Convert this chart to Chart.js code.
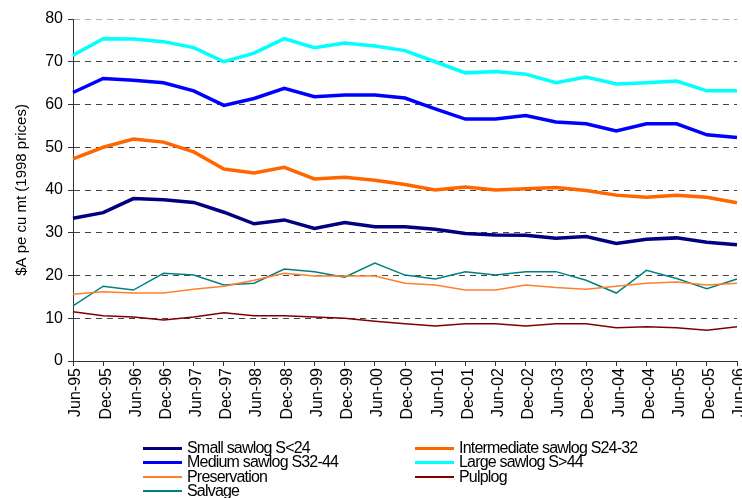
<!DOCTYPE html>
<html>
<head>
<meta charset="utf-8">
<script src="https://cdn.jsdelivr.net/npm/chart.js@4"></script>
<style>
  body { margin: 0; background: #fff; overflow: hidden; }
  #wrap { position: absolute; left: 0; top: 0; width: 742px; height: 498px; overflow: hidden; }
  #box { position: absolute; left: 0; top: 0; width: 762px; height: 440px; }
  #legend { position: absolute; left: 0; top: 440px; width: 742px; height: 58px;
    font-family: "Liberation Sans", Arial, sans-serif; font-size: 16px; color: #000; }
  .item { position: absolute; height: 14px; line-height: 14px; white-space: nowrap; letter-spacing: -0.8px; }
  .item span.line { position: absolute; left: 0; width: 39px; }
  .item span.txt { position: absolute; left: 44px; top: 0; }
</style>
</head>
<body>
<div id="wrap">
  <div id="box"><canvas id="precioChart"></canvas></div>
  <div id="legend"></div>
</div>
<script>
const labels = ['Jun-95','Dec-95','Jun-96','Dec-96','Jun-97','Dec-97','Jun-98','Dec-98','Jun-99','Dec-99',
  'Jun-00','Dec-00','Jun-01','Dec-01','Jun-02','Dec-02','Jun-03','Dec-03','Jun-04','Dec-04','Jun-05','Dec-05','Jun-06'];

const small = [33.4,34.7,38.0,37.7,37.1,34.8,32.1,33.0,31.0,32.4,31.4,31.4,30.8,29.8,29.5,29.4,28.7,29.1,27.5,28.5,28.8,27.8,27.2];
const intermediate = [47.3,50.0,51.9,51.2,48.9,44.9,44.0,45.3,42.6,43.0,42.3,41.3,40.0,40.7,40.0,40.3,40.6,39.9,38.8,38.3,38.8,38.3,37.0];
const medium = [62.8,66.1,65.7,65.1,63.2,59.8,61.4,63.8,61.8,62.2,62.2,61.5,59.0,56.6,56.6,57.4,55.9,55.5,53.8,55.5,55.5,52.9,52.3];
const large = [71.5,75.4,75.3,74.7,73.3,70.0,72.0,75.4,73.3,74.4,73.7,72.6,70.0,67.4,67.7,67.1,65.1,66.4,64.8,65.1,65.5,63.2,63.2];
const preservation = [15.6,16.2,15.9,15.9,16.8,17.5,18.9,20.5,19.9,19.9,19.9,18.2,17.8,16.6,16.6,17.8,17.2,16.8,17.5,18.2,18.5,17.8,18.2];
const pulplog = [11.5,10.6,10.3,9.6,10.3,11.3,10.6,10.6,10.3,10.0,9.3,8.7,8.2,8.7,8.7,8.2,8.7,8.7,7.8,8.0,7.8,7.2,8.0];
const salvage = [12.9,17.5,16.6,20.5,20.1,17.8,18.2,21.5,20.9,19.6,22.9,20.1,19.2,20.9,20.1,20.9,20.9,18.9,15.9,21.2,19.3,16.9,19.2];

const seriesNames = ['Small sawlog S<24', 'Intermediate sawlog S24-32', 'Medium sawlog S32-44',
  'Large sawlog S>44', 'Preservation', 'Pulplog', 'Salvage'];

const font = { family: '"Liberation Sans", Arial, sans-serif', size: 16 };

function serie(label, data, color, width) {
  return { label: label, data: data, borderColor: color, backgroundColor: color,
    borderWidth: width, pointRadius: 0, tension: 0, fill: false };
}

const datasets = [
  serie(seriesNames[0], small, '#000080', 3.5),
  serie(seriesNames[1], intermediate, '#ff6600', 3.5),
  serie(seriesNames[2], medium, '#0000ff', 3.5),
  serie(seriesNames[3], large, '#00ffff', 3.5),
  serie(seriesNames[4], preservation, '#ff7f2a', 1.5),
  serie(seriesNames[5], pulplog, '#800000', 1.5),
  serie(seriesNames[6], salvage, '#008080', 1.5)
];

new Chart(document.getElementById('precioChart'), {
  type: 'line',
  data: { labels: labels, datasets: datasets },
  options: {
    responsive: true,
    maintainAspectRatio: false,
    animation: false,
    layout: { padding: { top: 19, right: 25, bottom: 0, left: 0 } },
    scales: {
      x: {
        offset: false,
        grid: { drawOnChartArea: false, drawTicks: true, tickLength: 5, tickColor: '#333' },
        border: { color: '#333', width: 1 },
        ticks: { font: font, color: '#000', minRotation: 90, maxRotation: 90, padding: 2,
          labelOffset: 3, autoSkip: false },
        afterFit: function (scale) { scale.height = 79; }
      },
      y: {
        min: 0,
        max: 80,
        grid: {
          tickLength: 5,
          tickColor: '#333',
          color: function (ctx) { return ctx.tick && ctx.tick.value === 80 ? '#b0b0b0' : '#444'; }
        },
        border: { color: '#333', width: 1, dash: [6, 5] },
        ticks: { stepSize: 10, font: font, color: '#000', padding: 5 },
        title: {
          display: true,
          text: '$A pe cu mt (1998 prices)',
          font: { family: font.family, size: 15 },
          color: '#000',
          padding: { top: 13, bottom: 0 }
        },
        afterFit: function (scale) { scale.width = 73; }
      }
    },
    plugins: {
      legend: { display: false },
      tooltip: { enabled: false }
    }
  }
});

// leyenda en dos columnas, como en el original
const legend = document.getElementById('legend');
const colX = [143, 415];
const rowY = [1, 15.3, 29.6, 43.9];
datasets.forEach(function (ds, i) {
  const item = document.createElement('div');
  item.className = 'item';
  item.style.left = colX[i % 2] + 'px';
  item.style.top = rowY[Math.floor(i / 2)] + 'px';
  const line = document.createElement('span');
  line.className = 'line';
  const h = ds.borderWidth > 2 ? 3 : 2;
  line.style.height = h + 'px';
  line.style.top = (7 - h / 2) + 'px';
  line.style.background = ds.borderColor;
  const txt = document.createElement('span');
  txt.className = 'txt';
  txt.textContent = ds.label;
  item.appendChild(line);
  item.appendChild(txt);
  legend.appendChild(item);
});
</script>
</body>
</html>
